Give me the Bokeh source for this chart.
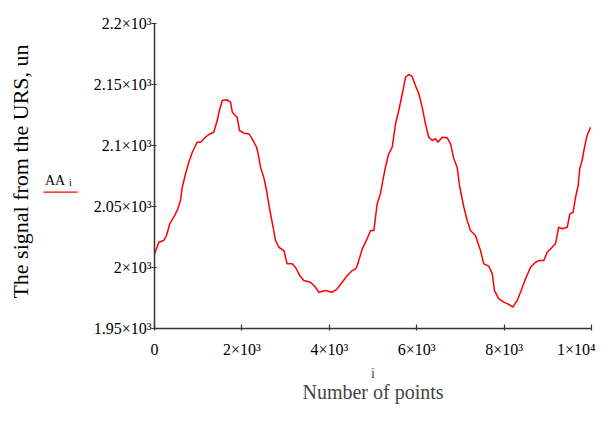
import math
from bokeh.plotting import figure
from bokeh.layouts import row
from bokeh.models import Range1d, FixedTicker, LinearAxis, ColumnDataSource
from bokeh.core.properties import value
from bokeh.embed import file_html
from bokeh.resources import INLINE

# ---- data ----
idx = [0, 100, 210, 275, 350, 440, 535, 595, 635, 710, 785, 865, 975, 1055, 1165, 1245,
       1355, 1435, 1485, 1550, 1650, 1740, 1780, 1890, 1945, 2045, 2160, 2235, 2335, 2365,
       2425, 2500, 2565, 2615, 2655, 2715, 2770, 2845, 2960, 3035, 3150, 3225, 3325, 3415,
       3570, 3685, 3760, 3915, 4065, 4180, 4295, 4410, 4525, 4600, 4640, 4675, 4755, 4865,
       4945, 5020, 5095, 5170, 5210, 5285, 5360, 5440, 5515, 5590, 5670, 5745, 5820, 5895,
       5970, 6050, 6125, 6200, 6275, 6355, 6430, 6485, 6585, 6700, 6775, 6850, 6925, 6985,
       7080, 7155, 7230, 7345, 7460, 7535, 7650, 7730, 7780, 7880, 7995, 8110, 8200, 8300,
       8390, 8490, 8605, 8720, 8795, 8910, 8985, 9100, 9175, 9250, 9330, 9445, 9505, 9580,
       9635, 9695, 9730, 9785, 9840, 9900, 9980]
signal = [2011.0, 2020.7, 2022.1, 2026.2, 2035.8, 2041.2, 2048.1, 2054.9, 2065.8, 2076.8,
          2086.3, 2094.5, 2102.7, 2102.7, 2106.8, 2109.0, 2110.9, 2120.5, 2128.7, 2136.9,
          2137.5, 2135.5, 2127.3, 2123.2, 2112.3, 2110.1, 2109.6, 2105.5, 2098.6, 2094.5,
          2082.2, 2074.0, 2063.1, 2052.2, 2044.0, 2033.0, 2022.1, 2016.6, 2013.9, 2003.0,
          2003.0, 2000.2, 1993.4, 1989.3, 1987.9, 1983.8, 1979.7, 1981.1, 1979.7, 1982.5,
          1987.9, 1993.4, 1997.5, 1998.9, 2001.6, 2005.7, 2015.3, 2023.5, 2030.3, 2030.3,
          2052.2, 2060.4, 2068.6, 2082.2, 2093.2, 2098.6, 2117.8, 2128.7, 2142.4, 2156.0,
          2158.2, 2156.6, 2149.2, 2142.4, 2131.4, 2117.8, 2106.8, 2104.1, 2105.5, 2102.7,
          2106.8, 2106.3, 2101.4, 2089.1, 2082.2, 2065.8, 2049.4, 2038.5, 2030.3, 2026.2,
          2013.9, 2003.0, 2001.1, 1994.8, 1981.1, 1974.3, 1971.6, 1969.7, 1967.5, 1973.0,
          1981.1, 1990.7, 2000.2, 2004.3, 2005.7, 2005.7, 2012.5, 2016.6, 2019.4, 2033.0,
          2031.7, 2033.0, 2044.0, 2045.3, 2057.6, 2067.2, 2080.9, 2087.7, 2098.6, 2108.2,
          2115.0]

x_ticks = [0, 2000, 4000, 6000, 8000, 10000]
x_tick_labels = ["0", "2×10³", "4×10³", "6×10³", "8×10³", "1×10⁴"]
y_ticks = [1950, 2000, 2050, 2100, 2150, 2200]
y_tick_labels = ["1.95×10³", "2×10³", "2.05×10³", "2.1×10³", "2.15×10³", "2.2×10³"]

x_label = "i"
x_title = "Number of points"
y_title = "The signal from the URS, un"
legend_name = "AA"
legend_sub = "i"

FONT = "Liberation Serif"
AXC = "#333333"
H = 407
LEFT_W = 86
TOP = 23      # frame top (px)
BOTTOM = 328  # frame bottom (px)

# ---------------- left strip: y title + Mathcad-style legend ----------------
# its frame is aligned with the main frame; y range expressed in page pixels
pl = figure(width=LEFT_W, height=H, output_backend="svg", toolbar_location=None,
            x_range=Range1d(0, LEFT_W), y_range=Range1d(BOTTOM, TOP),
            x_axis_location=None, y_axis_location=None,
            min_border_left=0, min_border_right=0, min_border_top=0, min_border_bottom=0)
pl.outline_line_color = None
pl.xgrid.visible = False
pl.ygrid.visible = False
pl.background_fill_color = "white"
pl.border_fill_color = "white"

pl.text(x=[19.5], y=[171], text=[y_title], angle=math.pi / 2,
        text_align="center", text_baseline="middle",
        text_font=value(FONT), text_font_size="22px", text_color="black")
pl.text(x=[44.5], y=[179.5], text=[legend_name], text_align="left", text_baseline="alphabetic",
        text_font=value(FONT), text_font_size="14px", text_color="black")
pl.text(x=[68.5], y=[181.5], text=[legend_sub], text_align="left", text_baseline="alphabetic",
        text_font=value(FONT), text_font_size="10px", text_color="black")
pl.segment(x0=[43], y0=[191.7], x1=[77], y1=[191.7], line_color="#ff0000", line_width=1.3)

# ---------------- main plot ----------------
p = figure(width=595 - LEFT_W, height=H, output_backend="svg", toolbar_location=None,
           x_range=Range1d(0, 10000), y_range=Range1d(1950, 2200),
           x_axis_location=None, y_axis_location=None,
           min_border_left=154 - LEFT_W, min_border_right=4, min_border_top=TOP,
           min_border_bottom=H - BOTTOM)
p.outline_line_color = None
p.xgrid.visible = False
p.ygrid.visible = False
p.background_fill_color = "white"
p.border_fill_color = "white"

src = ColumnDataSource(data=dict(i=idx, v=signal))
p.line("i", "v", source=src, line_color="#ff0000", line_width=1.5)

xa = LinearAxis(ticker=FixedTicker(ticks=x_ticks),
                major_label_overrides={t: s for t, s in zip(x_ticks, x_tick_labels)},
                axis_label=x_label)
xa.axis_line_color = AXC
xa.axis_line_width = 1.5
xa.major_tick_line_color = AXC
xa.major_tick_line_width = 1.2
xa.major_tick_in = 4
xa.major_tick_out = 2
xa.minor_tick_line_color = None
xa.major_label_standoff = 10
xa.major_label_text_font = FONT
xa.major_label_text_font_size = "16px"
xa.major_label_text_color = "black"
xa.axis_label_text_font = FONT
xa.axis_label_text_font_size = "14px"
xa.axis_label_text_font_style = "normal"
xa.axis_label_standoff = 5
p.add_layout(xa, "below")

xa2 = LinearAxis(ticker=FixedTicker(ticks=[]), axis_label=x_title)
xa2.axis_line_color = None
xa2.major_tick_line_color = None
xa2.minor_tick_line_color = None
xa2.major_tick_in = 0
xa2.major_tick_out = 0
xa2.major_label_standoff = 0
xa2.major_label_text_font_size = "0px"
xa2.axis_label_text_font = FONT
xa2.axis_label_text_font_size = "20px"
xa2.axis_label_text_font_style = "normal"
xa2.axis_label_standoff = -3
p.add_layout(xa2, "below")

ya = LinearAxis(ticker=FixedTicker(ticks=y_ticks),
                major_label_overrides={t: s for t, s in zip(y_ticks, y_tick_labels)})
ya.axis_line_color = AXC
ya.axis_line_width = 1.5
ya.major_tick_line_color = AXC
ya.major_tick_line_width = 1.2
ya.major_tick_in = 2
ya.major_tick_out = 3
ya.minor_tick_line_color = None
ya.major_label_standoff = 0
ya.major_label_text_font = FONT
ya.major_label_text_font_size = "16px"
ya.major_label_text_color = "black"
p.add_layout(ya, "left")

layout = row(pl, p, spacing=0)
open("out.html", "w").write(file_html(layout, INLINE))
